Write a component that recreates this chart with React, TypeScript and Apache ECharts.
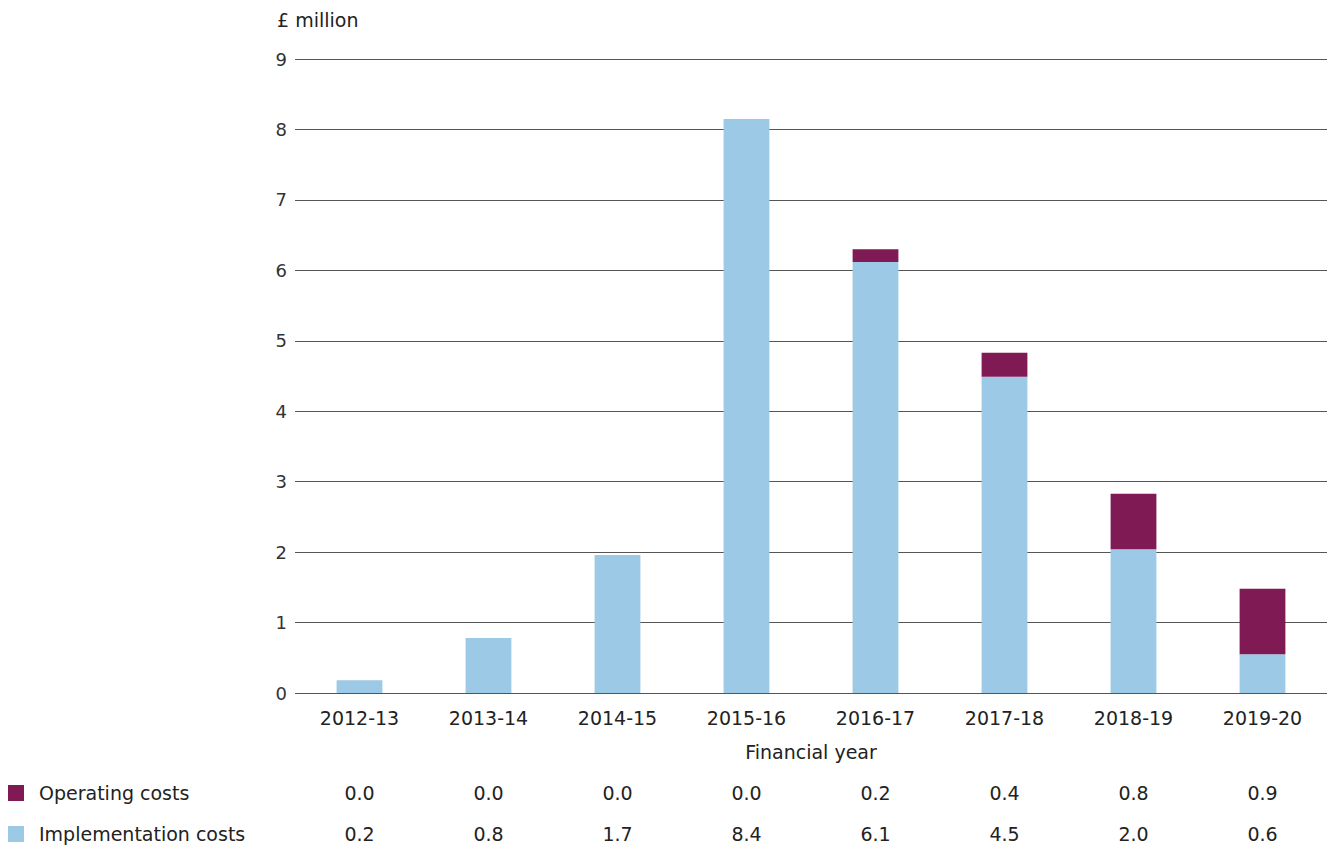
import React, { useEffect, useRef } from "react";
import * as echarts from "echarts";

const categories = ["2012-13", "2013-14", "2014-15", "2015-16", "2016-17", "2017-18", "2018-19", "2019-20"];
// bar heights as drawn in the picture (£ million)
const implementationCosts = [0.18, 0.78, 1.96, 8.15, 6.12, 4.49, 2.04, 0.55];
const operatingCosts = [0, 0, 0, 0, 0.18, 0.34, 0.79, 0.93];
// values printed in the table under the chart
const operatingLabels = ["0.0", "0.0", "0.0", "0.0", "0.2", "0.4", "0.8", "0.9"];
const implementationLabels = ["0.2", "0.8", "1.7", "8.4", "6.1", "4.5", "2.0", "0.6"];
const seriesNames = ["Operating costs", "Implementation costs"];
const yMin = 0;
const yMax = 9;
const yInterval = 1;

const FONT = "DejaVu Sans";
const TEXT = "#222222";
const BLUE = "#9BC9E6";
const MAROON = "#7F1A55";

export default function App() {
  const ref = useRef<HTMLDivElement>(null);
  useEffect(() => {
    if (!ref.current) return;
    const chart = echarts.init(ref.current, null, { renderer: "svg" });
    const hiddenAxisBase = {
      type: "category" as const,
      data: categories,
      position: "bottom" as const,
      axisLine: { show: false },
      axisTick: { show: false },
      splitLine: { show: false },
    };
    const legendColors = [MAROON, BLUE];
    const legendRows = [793, 834];
    const legendGraphics: any[] = [];
    seriesNames.forEach((name, i) => {
      legendGraphics.push({
        type: "rect",
        shape: { x: 8, y: legendRows[i] - 8, width: 16, height: 16 },
        style: { fill: legendColors[i] },
      });
      legendGraphics.push({
        type: "text",
        x: 39,
        y: legendRows[i],
        style: {
          text: name,
          fontFamily: FONT,
          fontSize: 19,
          fill: TEXT,
          verticalAlign: "middle",
          textAlign: "left",
        },
      });
    });
    chart.setOption({
      animation: false,
      textStyle: { fontFamily: FONT, color: TEXT },
      grid: { left: 295, right: -3, top: 59, bottom: 152, containLabel: false },
      graphic: [
        {
          type: "text",
          x: 277,
          y: 20,
          style: { text: "£ million", fontFamily: FONT, fontSize: 19, fill: TEXT, verticalAlign: "middle" },
        },
        ...legendGraphics,
      ],
      xAxis: [
        {
          ...hiddenAxisBase,
          axisLabel: { fontSize: 19, color: TEXT, margin: 15 },
          name: "Financial year",
          nameLocation: "middle",
          nameGap: 49,
          nameTextStyle: { fontSize: 19, color: TEXT, fontFamily: FONT },
        },
        {
          ...hiddenAxisBase,
          offset: 75,
          axisLabel: {
            fontSize: 19,
            color: TEXT,
            margin: 15,
            formatter: (_v: string, i: number) => operatingLabels[i],
          },
        },
        {
          ...hiddenAxisBase,
          offset: 116,
          axisLabel: {
            fontSize: 19,
            color: TEXT,
            margin: 15,
            formatter: (_v: string, i: number) => implementationLabels[i],
          },
        },
      ],
      yAxis: {
        type: "value",
        min: yMin,
        max: yMax,
        interval: yInterval,
        axisLine: { show: false },
        axisTick: { show: false },
        axisLabel: { fontSize: 18, color: "#333333", margin: 8 },
        splitLine: { show: true, lineStyle: { color: "#555555", width: 1.2 } },
      },
      series: [
        {
          name: "Implementation costs",
          type: "bar",
          stack: "total",
          xAxisIndex: 0,
          barWidth: "35.5%",
          itemStyle: { color: BLUE },
          data: implementationCosts,
        },
        {
          name: "Operating costs",
          type: "bar",
          stack: "total",
          xAxisIndex: 0,
          barWidth: "35.5%",
          itemStyle: { color: MAROON },
          data: operatingCosts,
        },
      ],
    });
    return () => chart.dispose();
  }, []);
  return (
    <div
      ref={ref}
      style={{ position: "absolute", left: 0, top: 0, width: 1327, height: 845, background: "#ffffff" }}
    />
  );
}
